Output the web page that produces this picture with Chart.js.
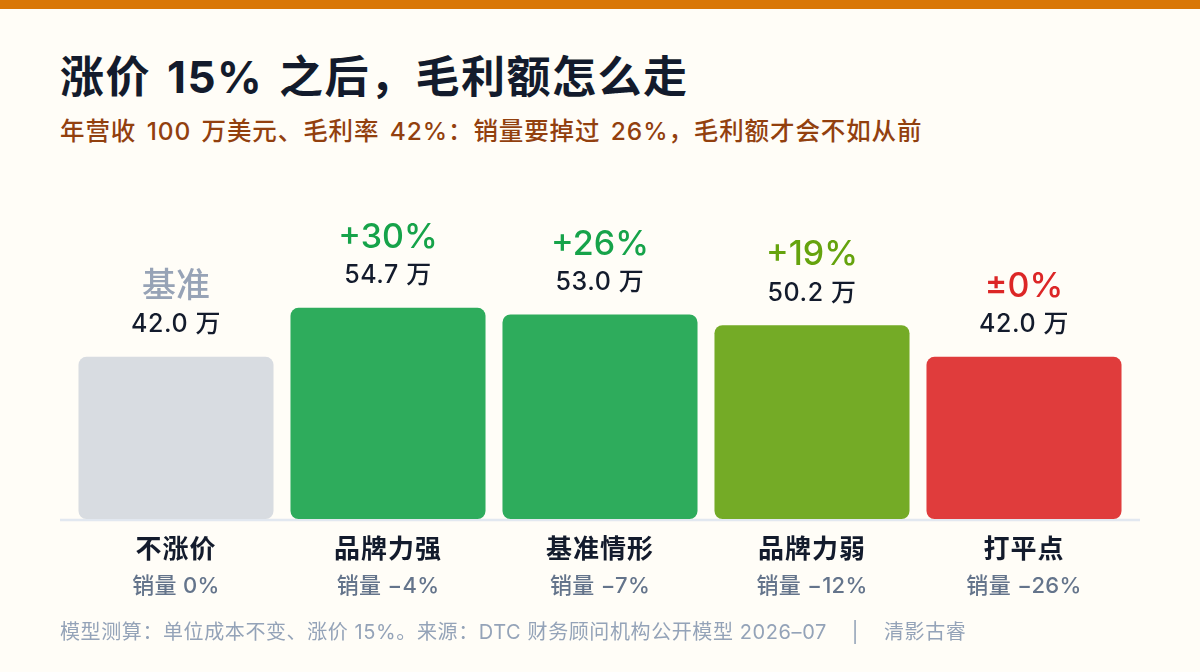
<!DOCTYPE html>
<html lang="zh">
<head>
<meta charset="utf-8">
<script src="https://cdn.jsdelivr.net/npm/chart.js@4/dist/chart.umd.min.js"></script>
<style>
  html,body{margin:0;padding:0;}
  body{width:1200px;height:672px;background:#fffdf7;position:relative;overflow:hidden;
    font-family:Inter,"Noto Sans CJK SC",sans-serif;}
  .topbar{position:absolute;left:0;top:0;width:1200px;height:9px;background:#d97706;}
  h1{position:absolute;left:60px;top:49px;margin:0;font-size:44px;line-height:56px;font-weight:700;color:#131b2c;letter-spacing:1.5px;word-spacing:4px;}
  .sub{position:absolute;left:60px;top:115px;margin:0;font-size:24.5px;line-height:32px;font-weight:500;color:#92400e;letter-spacing:0.9px;word-spacing:3px;}
  .wrap{position:absolute;left:0;top:160px;width:1200px;height:460px;}
  .foot{position:absolute;left:60px;top:619px;font-size:20px;line-height:26px;color:#94a3b8;white-space:pre;letter-spacing:0.6px;}
</style>
</head>
<body>
<div class="topbar"></div>
<h1>涨价 15% 之后，毛利额怎么走</h1>
<p class="sub">年营收 100 万美元、毛利率 42%：销量要掉过 26%，毛利额才会不如从前</p>
<div class="wrap"><canvas id="chart"></canvas></div>
<div class="foot">模型测算：单位成本不变、涨价 15%。来源：DTC 财务顾问机构公开模型 2026–07    |    清影古睿</div>
<script>
// 数据
const scenarios = ['不涨价', '品牌力强', '基准情形', '品牌力弱', '打平点'];
const volumeLabels = ['销量 0%', '销量 −4%', '销量 −7%', '销量 −12%', '销量 −26%'];
const grossProfit = [42.0, 54.7, 53.0, 50.2, 42.0];   // 万美元
const changeLabels = ['基准', '+30%', '+26%', '+19%', '±0%'];

// 样式
const BAR_COLORS = ['#d8dce1', '#2eac5c', '#2eac5c', '#74ab26', '#e03c3c'];
const CHANGE_COLORS = ['#97a3b6', '#16a34a', '#16a34a', '#65a30d', '#dc2626'];
const FONT = 'Inter, "Noto Sans CJK SC", sans-serif';

// 底部基线（比柱子区域稍宽）
const baselinePlugin = {
  id:'baseline',
  beforeDatasetsDraw(chart){
    const {ctx, scales:{y}} = chart;
    const base = y.getPixelForValue(0);
    ctx.save();
    ctx.strokeStyle = '#e2e8f0';
    ctx.lineWidth = 2.5;
    ctx.beginPath();
    ctx.moveTo(60, base + 1);
    ctx.lineTo(1140, base + 1);
    ctx.stroke();
    ctx.restore();
  }
};

const labelPlugin = {
  id:'barLabels',
  afterDatasetsDraw(chart){
    const {ctx, scales:{y}} = chart;
    const meta = chart.getDatasetMeta(0);
    const base = y.getPixelForValue(0);
    ctx.save();
    ctx.textAlign = 'center';
    ctx.textBaseline = 'middle';
    meta.data.forEach((bar, i)=>{
      const top = y.getPixelForValue(grossProfit[i]);
      ctx.letterSpacing = '0.6px';
      ctx.fillStyle = '#131b2c';
      ctx.font = `500 25px ${FONT}`;
      ctx.fillText(grossProfit[i].toFixed(1) + ' 万', bar.x, top - 32);
      ctx.letterSpacing = '0px';
      ctx.fillStyle = CHANGE_COLORS[i];
      ctx.font = `500 34px ${FONT}`;
      ctx.fillText(changeLabels[i], bar.x, top - 70);
      ctx.fillStyle = '#131b2c';
      ctx.font = `700 26px ${FONT}`;
      ctx.letterSpacing = '1px';
      ctx.fillText(scenarios[i], bar.x, base + 31);
      ctx.letterSpacing = '0.3px';
      ctx.fillStyle = '#64748b';
      ctx.font = `500 22px ${FONT}`;
      ctx.fillText(volumeLabels[i], bar.x, base + 67);
    });
    ctx.restore();
  }
};

new Chart(document.getElementById('chart'), {
  type:'bar',
  data:{
    labels:scenarios,
    datasets:[{
      data:grossProfit,
      backgroundColor:BAR_COLORS,
      borderRadius:8,
      borderSkipped:false,
      barPercentage:0.92,
      categoryPercentage:1.0
    }]
  },
  options:{
    responsive:true,
    maintainAspectRatio:false,
    animation:false,
    layout:{padding:{left:70, right:70, top:0, bottom:101}},
    plugins:{legend:{display:false}, tooltip:{enabled:false}},
    scales:{
      x:{display:false},
      y:{display:false, min:0, max:93}
    }
  },
  plugins:[baselinePlugin, labelPlugin]
});
</script>
</body>
</html>
